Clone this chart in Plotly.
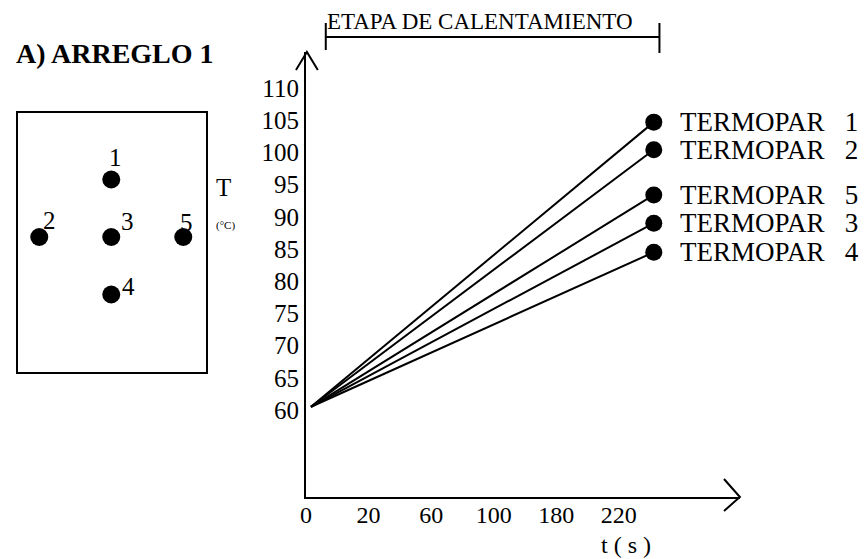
import plotly.graph_objects as go

# ---------------- data ----------------
x_tick_pos = [0, 1, 2, 3, 4, 5]
x_tick_text = ["0", "20", "60", "100", "180", "220"]
y_ticks = [60, 65, 70, 75, 80, 85, 90, 95, 100, 105, 110]

series_names = ["TERMOPAR 1", "TERMOPAR 2", "TERMOPAR 5", "TERMOPAR 3", "TERMOPAR 4"]
t_start = 0.08
t_end = 5.56
T_start = 60.5
T_end = [104.7, 100.4, 93.4, 89.0, 84.5]

sensor_ids = ["1", "2", "3", "5", "4"]
sensor_x = [0, -1, 0, 1, 0]
sensor_y = [1, 0, 0, 0, -1]

W, H = 866, 559
FONT = "Liberation Serif"


def px(x):
    return x / W


def py(y):
    return 1 - y / H


fig = go.Figure()

# main chart lines
for name, te in zip(series_names, T_end):
    fig.add_trace(go.Scatter(
        x=[t_start, t_end], y=[T_start, te], mode="lines",
        line=dict(color="black", width=2), name=name, showlegend=False,
        hoverinfo="skip", xaxis="x", yaxis="y"))
fig.add_trace(go.Scatter(
    x=[t_end] * len(T_end), y=T_end, mode="markers",
    marker=dict(color="black", size=17), showlegend=False,
    xaxis="x", yaxis="y"))

# sensor arrangement panel
fig.add_trace(go.Scatter(
    x=sensor_x, y=sensor_y, mode="markers",
    marker=dict(color="black", size=18), showlegend=False,
    xaxis="x2", yaxis="y2"))

annotations = []
for name, te in zip(series_names, T_end):
    label = name.replace(" ", "&nbsp;&nbsp;&nbsp;")
    annotations.append(dict(
        x=t_end, y=te, xref="x", yref="y", text=label, showarrow=False,
        xanchor="left", yanchor="middle", xshift=24,
        font=dict(family=FONT, size=27, color="black")))

label_shift = {"1": (4, 22, "center"), "2": (2, 17, "left"), "3": (8, 16, "left"),
               "5": (-5, 15, "left"), "4": (9, 8, "left")}
for sid, sx, sy in zip(sensor_ids, sensor_x, sensor_y):
    dx, dy, anc = label_shift[sid]
    annotations.append(dict(
        x=sx, y=sy, xref="x2", yref="y2", text=sid, showarrow=False,
        xanchor=anc, yanchor="middle", xshift=dx, yshift=dy,
        font=dict(family=FONT, size=25, color="black")))

annotations += [
    dict(x=px(8), y=py(54), xref="paper", yref="paper", text="<b>A) ARREGLO 1</b>",
         showarrow=False, xanchor="left", yanchor="middle",
         font=dict(family=FONT, size=28, color="black")),
    dict(x=px(219), y=py(187), xref="paper", yref="paper", text="T",
         showarrow=False, xanchor="center", yanchor="middle",
         font=dict(family=FONT, size=25, color="black")),
    dict(x=px(221), y=py(225), xref="paper", yref="paper", text="(°C)",
         showarrow=False, xanchor="center", yanchor="middle",
         font=dict(family=FONT, size=11, color="black")),
    dict(x=px(321), y=py(21), xref="paper", yref="paper", text="ETAPA DE CALENTAMIENTO",
         showarrow=False, xanchor="left", yanchor="middle",
         font=dict(family=FONT, size=23, color="black")),
    dict(x=px(624), y=py(545), xref="paper", yref="paper", text="t ( s )",
         showarrow=False, xanchor="center", yanchor="middle",
         font=dict(family=FONT, size=24, color="black")),
]

line = dict(color="black", width=2)
shapes = [
    # bracket
    dict(type="line", xref="paper", yref="paper", x0=px(322), x1=px(658), y0=py(37), y1=py(37), line=line),
    dict(type="line", xref="paper", yref="paper", x0=px(322), x1=px(322), y0=py(23), y1=py(50), line=line),
    dict(type="line", xref="paper", yref="paper", x0=px(658), x1=px(658), y0=py(23), y1=py(53), line=line),
    # y arrowhead
    dict(type="path", xref="paper", yref="paper",
         path=f"M {px(292)} {py(70)} L {px(303)} {py(52)} L {px(314)} {py(70)}", line=line),
    # x arrowhead
    dict(type="path", xref="paper", yref="paper",
         path=f"M {px(723)} {py(479)} L {px(739)} {py(497)} L {px(723)} {py(511)}", line=line),
]

# main axes: x from px 302 to 739, y from px 52 to 497
xs = 63.0
x0_px, x1_px = 302, 739
x_range = [-0.002, (x1_px - x0_px) / xs]
ys = 6.44
y_top_px, y_bot_px = 52, 497
y_range = [110 - (y_bot_px - 88) / ys, 110 + (88 - y_top_px) / ys]

xaxis_cfg = dict(domain=[px(x0_px), px(x1_px)], range=x_range, tickvals=x_tick_pos,
                 ticktext=x_tick_text, showgrid=False, zeroline=False, showline=True,
                 linecolor="black", linewidth=2, ticks="", tickfont=dict(size=24, family=FONT),
                 anchor="y", fixedrange=True)

fig.update_layout(
    width=W, height=H, margin=dict(l=0, r=0, t=0, b=0),
    paper_bgcolor="white", plot_bgcolor="white", showlegend=False,
    font=dict(family=FONT, color="black"),
    xaxis=xaxis_cfg,
    yaxis=dict(domain=[py(y_bot_px), py(y_top_px)], range=y_range, tickvals=y_ticks,
               showgrid=False, zeroline=False, showline=True, linecolor="black",
               linewidth=2, ticks="", tickfont=dict(size=25, family=FONT),
               anchor="x", fixedrange=True),
    xaxis2=dict(domain=[px(12), px(201)], range=[(12 - 106) / 72.5, (201 - 106) / 72.5],
                showgrid=False, zeroline=False, showticklabels=False, ticks="",
                showline=True, mirror=True, linecolor="black", linewidth=2, anchor="y2",
                fixedrange=True),
    yaxis2=dict(domain=[py(372), py(113)], range=[-(372 - 237) / 57.5, (237 - 113) / 57.5],
                showgrid=False, zeroline=False, showticklabels=False, ticks="",
                showline=True, mirror=True, linecolor="black", linewidth=2, anchor="x2",
                fixedrange=True),
    annotations=annotations, shapes=shapes,
)
try:
    fig.update_xaxes(ticklabelstandoff=-5, selector=dict(anchor="y"))
except Exception:
    pass

fig.write_html("out.html", config={"displayModeBar": False},
               post_script="document.body.style.margin='0px';document.body.style.overflow='hidden';")
